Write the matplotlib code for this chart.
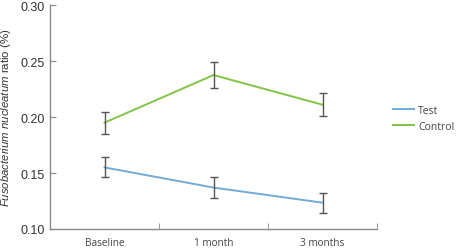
import numpy as np
import matplotlib.pyplot as plt

plt.rcParams['font.family'] = ['Open Sans', 'DejaVu Sans']
plt.rcParams['mathtext.fontset'] = 'custom'
plt.rcParams['mathtext.it'] = 'Liberation Sans:italic'
plt.rcParams['mathtext.rm'] = 'Liberation Sans'

categories = ["Baseline", "1 month", "3 months"]
test_mean = [0.155, 0.137, 0.1235]
test_err = [0.009, 0.009, 0.009]
control_mean = [0.195, 0.2375, 0.211]
control_err = [0.0097, 0.0117, 0.0105]

blue = "#72aad8"
green = "#80c448"
bar_col = "#555555"
axis_col = "#8a8a8a"

fig = plt.figure(figsize=(4.6, 2.51), dpi=100)
ax = fig.add_axes([0.1087, 0.0837, 0.711, 0.892])

x = np.arange(len(categories))
for mean, err, col, lab in [(test_mean, test_err, blue, "Test"),
                            (control_mean, control_err, green, "Control")]:
    ax.plot(x, mean, color=col, lw=1.4, label=lab)
    ax.errorbar(x, mean, yerr=err, fmt="none", ecolor=bar_col, elinewidth=1.0,
                capsize=3, capthick=1.0)

ax.set_xlim(-0.5, 2.5)
ax.set_ylim(0.10, 0.30)
yt = [0.10, 0.15, 0.20, 0.25, 0.30]
ax.set_yticks(yt)
ax.set_yticklabels([f"{v:.2f}" for v in yt], family="Liberation Sans")
ax.set_xticks(x)
ax.set_xticklabels(categories)
ax.set_xticks([0.5, 1.5, 2.5], minor=True)
ax.tick_params(axis="x", which="major", length=0, labelsize=7.2,
               labelcolor="#444444", pad=6)
ax.tick_params(axis="x", which="minor", direction="in", length=4, color=axis_col)
ax.tick_params(axis="y", direction="in", length=4, color=axis_col, labelsize=9,
               labelcolor="#333333", pad=4)

for s in ["top", "right"]:
    ax.spines[s].set_visible(False)
for s in ["left", "bottom"]:
    ax.spines[s].set_color(axis_col)
    ax.spines[s].set_linewidth(1.0)

ax.set_ylabel(r"$\mathit{Fusobacterium\ nucleatum}$ ratio (%)", fontsize=8.2,
              color="#333333", labelpad=5, family="Liberation Sans")

ax.legend(loc="center left", bbox_to_anchor=(1.02, 0.495), frameon=False,
          fontsize=7.5, handlelength=2.0, labelspacing=0.5, handletextpad=0.4,
          labelcolor="#444444")

fig.savefig("out.png", dpi=100)
